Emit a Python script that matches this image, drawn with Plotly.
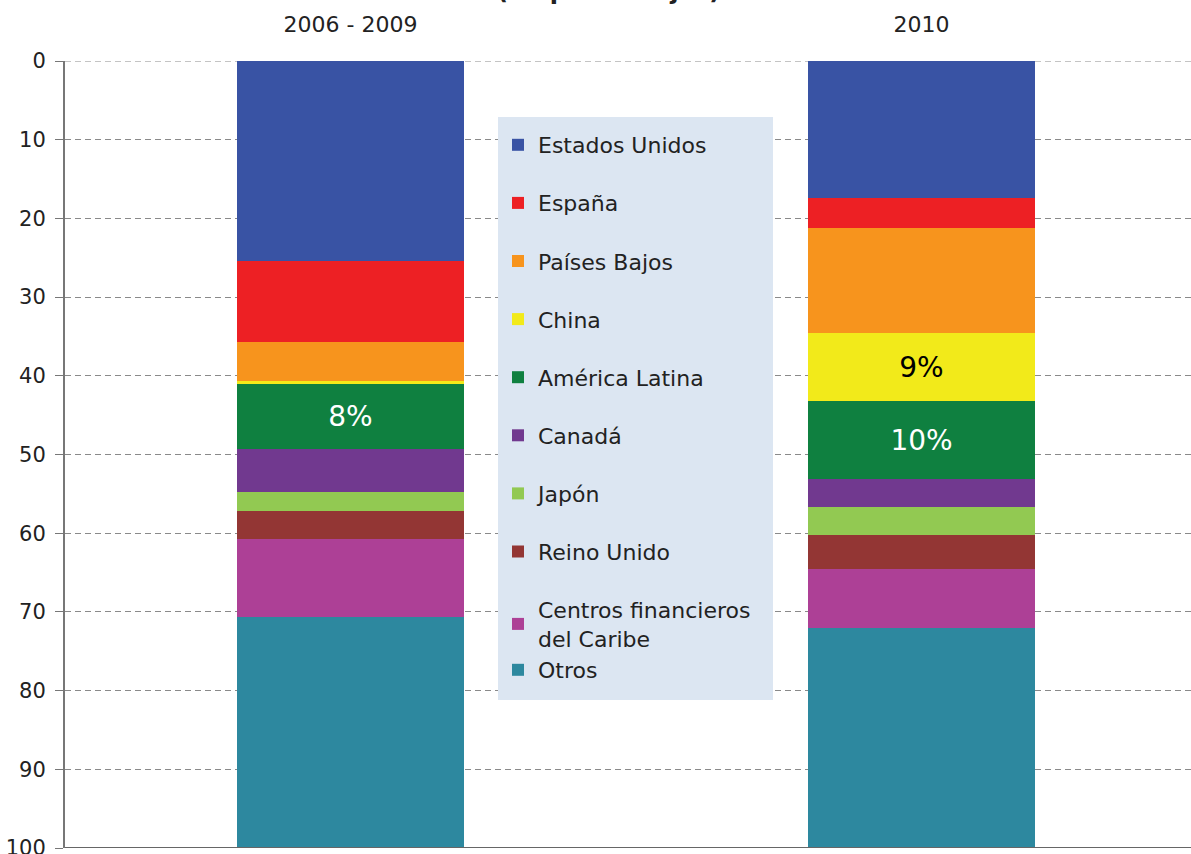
import plotly.graph_objects as go

categories = ["2006 - 2009", "2010"]
series_names = ["Estados Unidos", "España", "Países Bajos", "China", "América Latina",
                "Canadá", "Japón", "Reino Unido", "Centros financieros<br>del Caribe", "Otros"]
estados_unidos = [25.4, 17.4]
espana = [10.3, 3.8]
paises_bajos = [5.0, 13.3]
china = [0.3, 8.7]
america_latina = [8.3, 9.9]
canada = [5.5, 3.6]
japon = [2.4, 3.5]
reino_unido = [3.5, 4.3]
centros_caribe = [9.9, 7.5]
otros = [29.4, 28.0]
labels_china = ["", "9%"]
labels_al = ["8%", "10%"]
colors = ["#3953a4", "#ed2024", "#f7941d", "#f2ea1a", "#0f8040",
          "#71398f", "#92c952", "#933634", "#ad4096", "#2d889f"]
values = [estados_unidos, espana, paises_bajos, china, america_latina,
          canada, japon, reino_unido, centros_caribe, otros]
groups = ["g0", "g1", "g2", "g3", "g4", "g5", "g6", "g7", "g8", "g8"]

W, H = 1191, 854
ML, MR, MT, MB = 65, 0, 61, 6
FONT = "DejaVu Sans"

xpos = [0, 1]
fig = go.Figure()
for i, (name, vals, col) in enumerate(zip(series_names, values, colors)):
    text = None
    tcolors = None
    if i == 3:
        text = labels_china
        tcolors = ["#000000", "#000000"]
    elif i == 4:
        text = labels_al
        tcolors = ["#ffffff", "#ffffff"]
    fig.add_trace(go.Bar(
        x=xpos, y=vals, name=name, marker=dict(color=col, line=dict(width=0)),
        width=0.3975, legendgroup=groups[i],
        text=text, textposition="inside" if text else None,
        insidetextanchor="middle", textangle=0,
        textfont=dict(size=28, color=tcolors, family=FONT) if text else None,
        hoverinfo="skip",
    ))

plot_w = W - ML - MR
plot_h = H - MT - MB
fig.update_layout(
    width=W, height=H,
    margin=dict(l=ML, r=MR, t=MT, b=MB, autoexpand=False),
    barmode="stack", bargap=0,
    plot_bgcolor="white", paper_bgcolor="white",
    font=dict(family=FONT, color="#222222"),
    xaxis=dict(
        range=[-0.5, -0.5 + plot_w / 571.0], tickvals=xpos, ticktext=categories,
        side="top", showgrid=False, zeroline=False, showline=False, ticks="",
        tickfont=dict(size=22, family=FONT, color="#222222"), ticklabelstandoff=24,
        fixedrange=True,
    ),
    yaxis=dict(
        range=[100, 0], tickvals=list(range(0, 101, 10)), showgrid=True,
        gridcolor="#8a8a8a", griddash="6px,4px", gridwidth=1, zeroline=False,
        showline=True, linecolor="#777777", linewidth=2, ticks="outside",
        ticklen=8, tickcolor="#777777", tickwidth=1,
        tickfont=dict(size=21, family=FONT, color="#222222"), ticklabelstandoff=5,
        ticklabeloverflow="allow", fixedrange=True,
    ),
    legend=dict(
        x=(498 - ML) / plot_w, xanchor="left",
        y=(848 - 124) / plot_h, yanchor="top",
        bgcolor="rgba(0,0,0,0)", borderwidth=0,
        font=dict(size=22, family=FONT, color="#222222"),
        traceorder="grouped", tracegroupgap=26.5, itemwidth=30,
        itemclick=False, itemdoubleclick=False,
    ),
    showlegend=True,
)

# legend background box
fig.add_shape(type="rect", xref="paper", yref="paper",
              x0=(498 - ML) / plot_w, x1=(773 - ML) / plot_w,
              y0=(848 - 700) / plot_h, y1=(848 - 117) / plot_h,
              fillcolor="#dce6f2", line=dict(width=0), layer="above")
# dashed grid line at 0 (top edge of plot)
fig.add_shape(type="line", xref="paper", yref="y", x0=0, x1=1, y0=0, y1=0,
              line=dict(color="#8a8a8a", width=1, dash="6px,4px"), layer="below")
# bottom axis line
fig.add_shape(type="line", xref="paper", yref="y", x0=0, x1=1, y0=100, y1=100,
              line=dict(color="#666666", width=2), layer="above")

# clipped title at the very top
fig.add_annotation(text="<b>(En porcentajes)</b>", xref="paper", yref="paper",
                   x=(608 - ML) / plot_w, xanchor="center",
                   y=(848 + 9) / plot_h, yanchor="middle", showarrow=False,
                   font=dict(size=24, family=FONT, color="#222222"))

fig.write_html("out.html", config={"displayModeBar": False},
               post_script="document.body.style.margin='0';")
